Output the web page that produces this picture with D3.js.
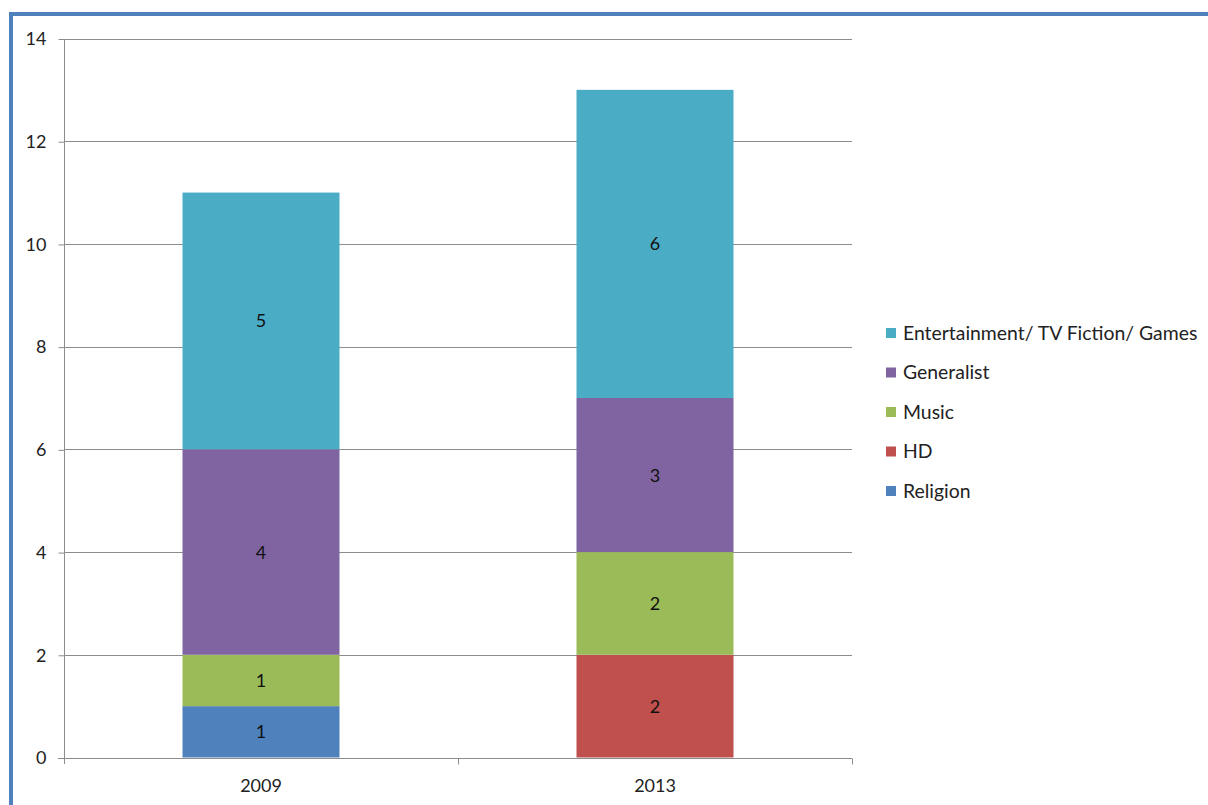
<!DOCTYPE html>
<html>
<head>
<meta charset="utf-8">
<script src="https://cdnjs.cloudflare.com/ajax/libs/d3/7.8.5/d3.min.js"></script>
<style>
  html, body { margin: 0; padding: 0; background: #fff; }
  svg { display: block; }
</style>
</head>
<body>
<svg id="chart" width="1208" height="805"></svg>
<script>
// Channel counts by genre, stacked per year
const years = ["2009", "2013"];
const series = ["Religion", "HD", "Music", "Generalist", "Entertainment/ TV Fiction/ Games"];
const religion = [1, 0];
const hd = [0, 2];
const music = [1, 2];
const generalist = [4, 3];
const entertainment = [5, 6];
const colors = ["#4F81BD", "#C0504D", "#9BBB59", "#8064A2", "#4BACC6"];
const yTicks = [0, 2, 4, 6, 8, 10, 12, 14];

const valuesBySeries = [religion, hd, music, generalist, entertainment];
const rows = years.map((y, i) => {
  const r = { year: y };
  series.forEach((s, k) => { r[s] = valuesBySeries[k][i]; });
  return r;
});

const svg = d3.select("#chart");
const font = "Lato, 'Open Sans', sans-serif";

// outer frame
svg.append("path")
  .attr("d", "M11,805 V14 H1208")
  .attr("fill", "none")
  .attr("stroke", "#4F81BD")
  .attr("stroke-width", 4);

const plot = { left: 64, right: 852, top: 38.5, bottom: 757.5 };

const x = d3.scaleBand().domain(years).range([plot.left, plot.right]).paddingInner(0).paddingOuter(0);
const y = d3.scaleLinear().domain([0, 14]).range([plot.bottom, plot.top]);

// horizontal gridlines
svg.append("g")
  .selectAll("line")
  .data(yTicks.filter(t => t > 0))
  .join("line")
  .attr("x1", plot.left).attr("x2", plot.right)
  .attr("y1", d => Math.round(y(d)) + 0.5).attr("y2", d => Math.round(y(d)) + 0.5)
  .attr("stroke", "#8c8c8c").attr("stroke-width", 1);

// stacked bars
const stack = d3.stack().keys(series);
const layers = stack(rows);
const barW = 157;

const g = svg.append("g");
layers.forEach((layer, k) => {
  const lg = g.append("g").attr("fill", colors[k]);
  layer.forEach((d, i) => {
    const v = d[1] - d[0];
    if (v <= 0) return;
    const cx = x(years[i]) + x.bandwidth() / 2;
    lg.append("rect")
      .attr("x", cx - barW / 2)
      .attr("width", barW)
      .attr("y", y(d[1]))
      .attr("height", y(d[0]) - y(d[1]));
    g.append("text")
      .attr("x", cx)
      .attr("y", (y(d[0]) + y(d[1])) / 2)
      .attr("dy", "0.36em")
      .attr("text-anchor", "middle")
      .attr("font-family", font)
      .attr("font-size", 18)
      .attr("fill", "#111")
      .text(v);
  });
});

// y axis
const yAxis = d3.axisLeft(y).tickValues(yTicks).tickSize(6).tickPadding(12).tickFormat(d3.format("d"));
const ya = svg.append("g").attr("transform", `translate(${plot.left + 0.5},0.5)`).call(yAxis);
ya.select(".domain").attr("stroke", "#8c8c8c").attr("d", `M0,${plot.top} V${plot.bottom + 6}`);
ya.selectAll(".tick line").attr("stroke", "#8c8c8c");
ya.selectAll(".tick text").attr("font-family", font).attr("font-size", 18).attr("fill", "#222");

// x axis
const xa = svg.append("g").attr("transform", `translate(0,${Math.round(plot.bottom) + 0.5})`)
  .call(d3.axisBottom(x).tickSize(0).tickPadding(21));
xa.select(".domain").attr("stroke", "#8c8c8c").attr("d", `M${plot.left - 6},0 H${plot.right}`);
xa.selectAll(".tick text").attr("font-family", font).attr("font-size", 18).attr("fill", "#222");
// category separators
xa.append("g").selectAll("line")
  .data([plot.left + x.bandwidth(), plot.right])
  .join("line")
  .attr("x1", d => d + 0.5).attr("x2", d => d + 0.5)
  .attr("y1", 0).attr("y2", 6)
  .attr("stroke", "#8c8c8c");

// legend (top-down: reverse stack order)
const legendOrder = series.map((s, k) => ({ s, c: colors[k] })).reverse();
const leg = svg.append("g").attr("transform", "translate(886,333)");
legendOrder.forEach((d, i) => {
  const row = leg.append("g").attr("transform", `translate(0,${i * 39.5})`);
  row.append("rect").attr("x", 0).attr("y", -5).attr("width", 10).attr("height", 10).attr("fill", d.c);
  row.append("text").attr("x", 17).attr("dy", "0.36em")
    .attr("font-family", font).attr("font-size", 19.4).attr("fill", "#222").text(d.s);
});
</script>
</body>
</html>
